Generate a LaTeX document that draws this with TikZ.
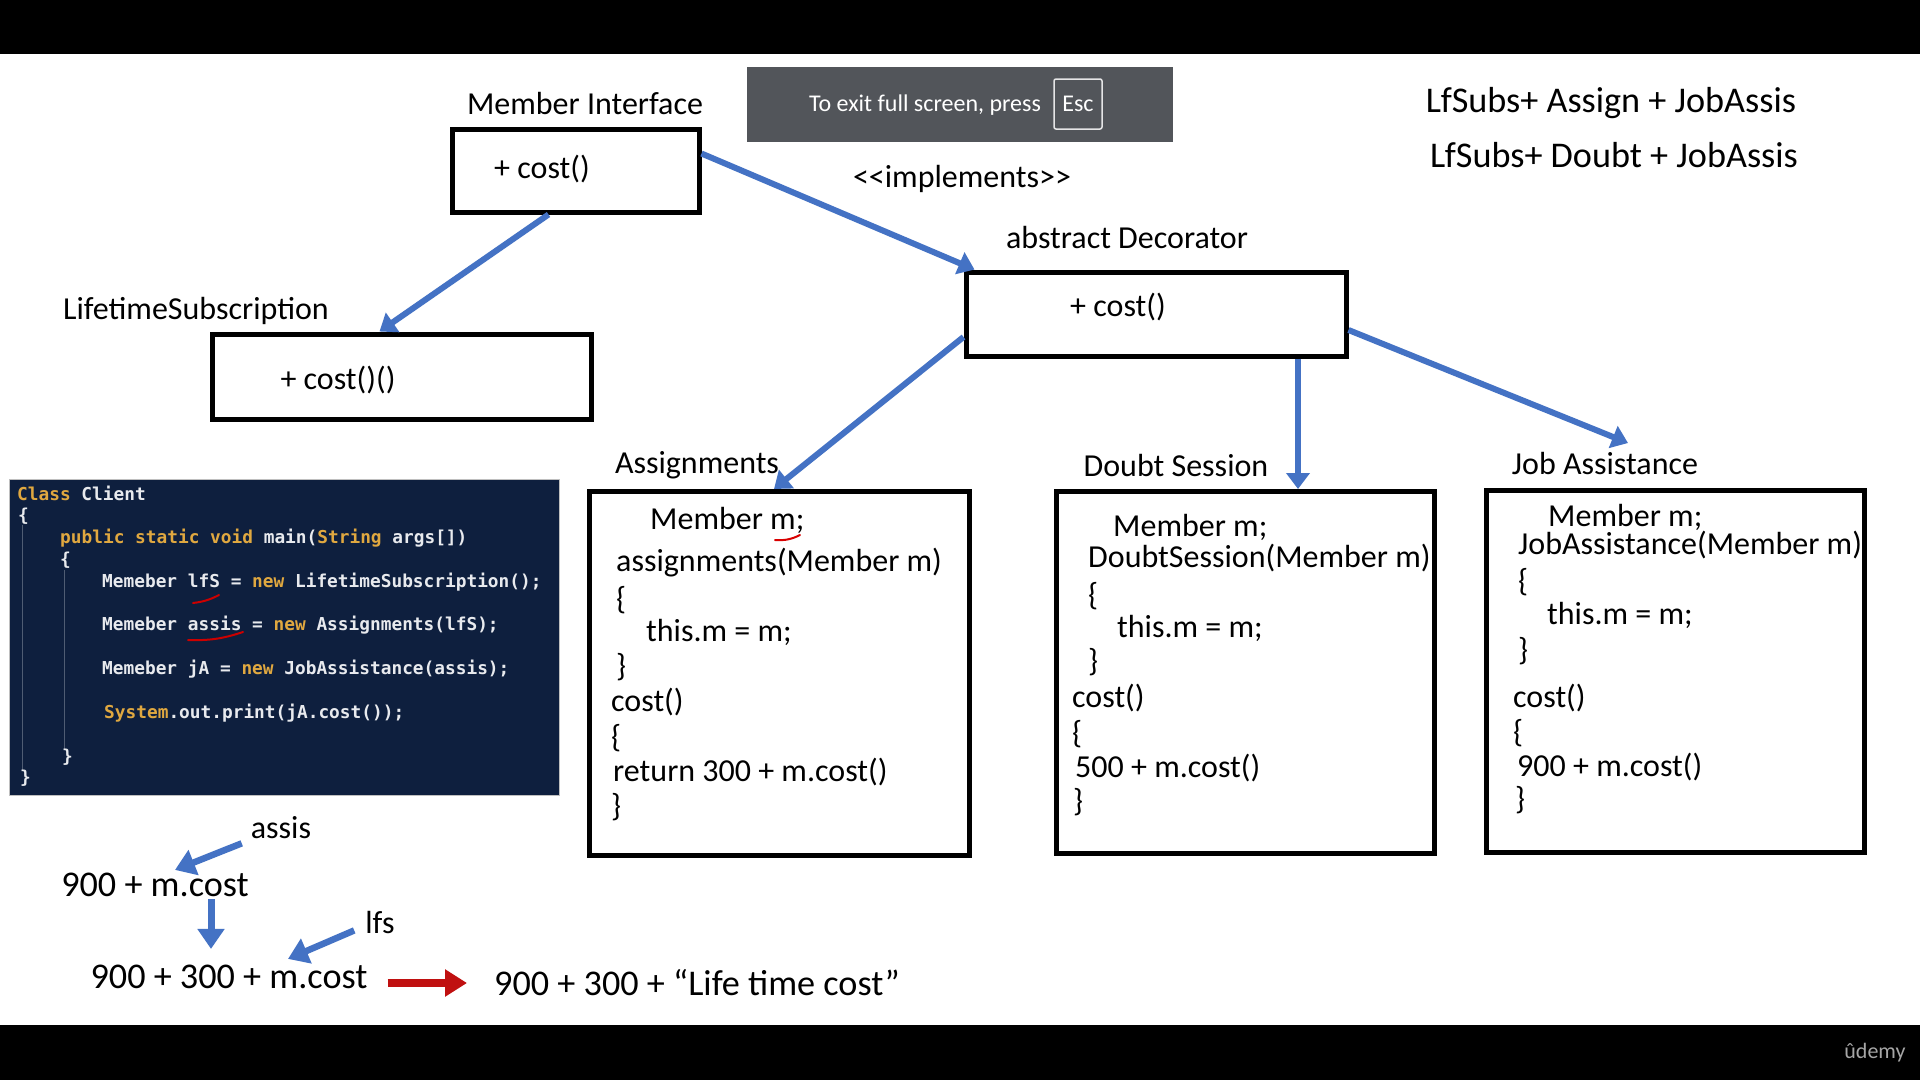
\documentclass[tikz,border=0pt]{standalone}
\usepackage{fontspec}
\setmainfont{Carlito}
\newfontfamily\codefont{DejaVu Sans Mono}
\usepackage{tikz}
\usetikzlibrary{arrows.meta,positioning}
\definecolor{linkblue}{RGB}{68,114,196}
\definecolor{linkred}{RGB}{192,16,16}
\definecolor{codebg}{RGB}{14,31,62}
\definecolor{codekey}{RGB}{224,168,64}
\definecolor{codetxt}{RGB}{232,234,238}
\definecolor{osdgray}{RGB}{82,85,90}
\newcommand{\kw}[1]{\textcolor{codekey}{#1}}

\begin{document}
\begin{tikzpicture}[x=1pt,y=-1pt,
  every node/.style={font=\fontsize{32}{37}\selectfont,inner sep=0pt},
  classbox/.style={draw=black,line width=5pt},
  big/.style={font=\fontsize{36.2}{41}\selectfont},
  osdtext/.style={text=white,font=\fontsize{24}{28}\selectfont},
  codeline/.style={anchor=west,text=codetxt,font=\codefont\bfseries\fontsize{17.8}{20}\selectfont},
  link/.style={draw=linkblue,line width=6pt,-{Triangle[length=16pt,width=23pt]}},
  fatlink/.style={draw=linkblue,line width=7pt,-{Triangle[length=20pt,width=26pt]}}]
\useasboundingbox (0,0) rectangle (1920,1080);
% screen and black bars
\fill[white] (0,0) rectangle (1920,1080);
\fill[black] (0,0) rectangle (1920,54);
\fill[black] (0,1025) rectangle (1920,1080);
% class boxes
\node[classbox,minimum width=247pt,minimum height=83pt] (mi) at (575.5,170.5) {};
\node[classbox,minimum width=379pt,minimum height=85pt] (ls) at (401.5,376.5) {};
\node[classbox,minimum width=380pt,minimum height=84pt] (dec) at (1156,314) {};
\node[classbox,minimum width=380pt,minimum height=364pt] (asg) at (779,673.5) {};
\node[classbox,minimum width=378pt,minimum height=362pt] (ds) at (1245.5,672.5) {};
\node[classbox,minimum width=378pt,minimum height=362pt] (ja) at (1675,671) {};
% titles
\node (milab) at (585,104) {Member Interface};
\node (declab) at (1127,238) {abstract Decorator};
\node (lslab) at (196,311) {LifetimeSubscription};
\node (asglab) at (697,465) {Assignments};
\node (dslab) at (1176,465) {Doubt Session};
\node (jalab) at (1605,463) {Job Assistance};
\node (impl) at (962,179) {<\kern0pt<implements>\kern0pt>};
\node (mitxt) at (542,169) {+ cost()};
\node (dectxt) at (1118,307) {+ cost()};
\node (lstxt) at (338,380) {+ cost()()};
% combinations
\node[big] (combo1) at (1611,103) {LfSubs+ Assign + JobAssis};
\node[big] (combo2) at (1614,155) {LfSubs+ Doubt + JobAssis};
% full screen notice
\node[fill=osdgray,minimum width=426pt,minimum height=75pt] (osd) at (960,104.5) {};
\node[osdtext] (osdtxt) at (925,105) {To exit full screen, press};
\node[osdtext,draw=white!85!osdgray,line width=1.5pt,rounded corners=2pt,minimum width=48pt,minimum height=50pt] (esc) at (1078,104) {Esc};
% decorator bodies
\foreach \x/\y/\txt [count=\i] in {650/520/{Member m;},616/563/{assignments(Member m)},616/600/\{,646/632/{this.m = m;},616/667/\},611/702/cost(),611/738/\{,613/772/{return 300 + m.cost()},611/807/\}}
  \node[anchor=west] (asg\i) at (\x,\y) {\txt};
\foreach \x/\y/\txt [count=\i] in {1113/527/{Member m;},1088/558/{DoubtSession(Member m)},1088/596/\{,1117/628/{this.m = m;},1088/662/\},1072/698/cost(),1072/734/\{,1075/768/{500 + m.cost()},1073/802/\}}
  \node[anchor=west] (ds\i) at (\x,\y) {\txt};
\foreach \x/\y/\txt [count=\i] in {1548/517/{Member m;},1518/545/{JobAssistance(Member m)},1518/582/\{,1547/615/{this.m = m;},1518/651/\},1513/698/cost(),1513/733/\{,1517/767/{900 + m.cost()},1515/800/\}}
  \node[anchor=west] (ja\i) at (\x,\y) {\txt};
\draw[red!85!black,line width=2pt,line cap=round] (775,540) to[bend right=15] (800,535);
% client code
\node[fill=codebg,draw=gray!50,line width=1pt,minimum width=550pt,minimum height=316pt] (client) at (284,637.5) {};
\draw[codetxt,opacity=0.3,line width=1pt] (22,525) -- (22,770) (64,570) -- (64,750);
\foreach \x/\y/\txt [count=\i] in {17/493/{\kw{Class} Client},18/516/\{,60/538/{\kw{public static void} main(\kw{String} args[])},60/560/\{,102/582/{Memeber lfS = \kw{new} LifetimeSubscription();},102/625/{Memeber assis = \kw{new} Assignments(lfS);},102/669/{Memeber jA = \kw{new} JobAssistance(assis);},104/713/{\kw{System}.out.print(jA.cost());},62/757/\},20/778/\}}
  \node[codeline] (code\i) at (\x,\y) {\txt};
\draw[red!80!black,line width=2pt,line cap=round] (193,603) to[bend right=10] (219,595);
\draw[red!80!black,line width=2pt,line cap=round] (188,640) to[bend right=10] (243,632);
% hierarchy arrows
\draw[link] ([xshift=-27pt]mi.south) -- ([xshift=-22pt]ls.north);
\draw[link] ([yshift=17pt]mi.east) -- ([xshift=11pt]dec.north west);
\draw[link] ([yshift=-23pt]dec.west) -- ([xshift=-5pt]asg.north);
\draw[link] ([xshift=142pt]dec.south) -- ([xshift=52.5pt]ds.north);
\coordinate (jatip) at (1628,443);
\draw[link] ([yshift=-16pt]dec.east) -- (jatip);
% cost chain
\node (assis) at (281,828) {assis};
\node[big] (sum1) at (155,885) {900 + m.cost};
\node (lfs) at (380,922) {lfs};
\node[big] (sum2) at (229,977) {900 + 300 + m.cost};
\node[big] (total) at (697,983) {900 + 300 + “Life time cost”};
\draw[fatlink,line width=6.5pt] ([xshift=-9pt,yshift=-4pt]assis.south west) -- ([xshift=20pt,yshift=3pt]sum1.north);
\draw[fatlink] ([xshift=56pt,yshift=-2pt]sum1.south) -- ([xshift=-18pt,yshift=16pt]sum2.north);
\draw[fatlink,line width=6.5pt] ([xshift=-11pt,yshift=3pt]lfs.south west) -- ([xshift=59pt,yshift=6pt]sum2.north);
\draw[draw=linkred,line width=8pt,-{Triangle[length=22pt,width=26pt]}] ([xshift=20pt,yshift=-6pt]sum2.east) -- ([xshift=-27pt]total.west);
\node[text=gray!70,font=\fontsize{22}{24}\selectfont] (brand) at (1875,1053) {ûdemy};
\end{tikzpicture}
\end{document}
